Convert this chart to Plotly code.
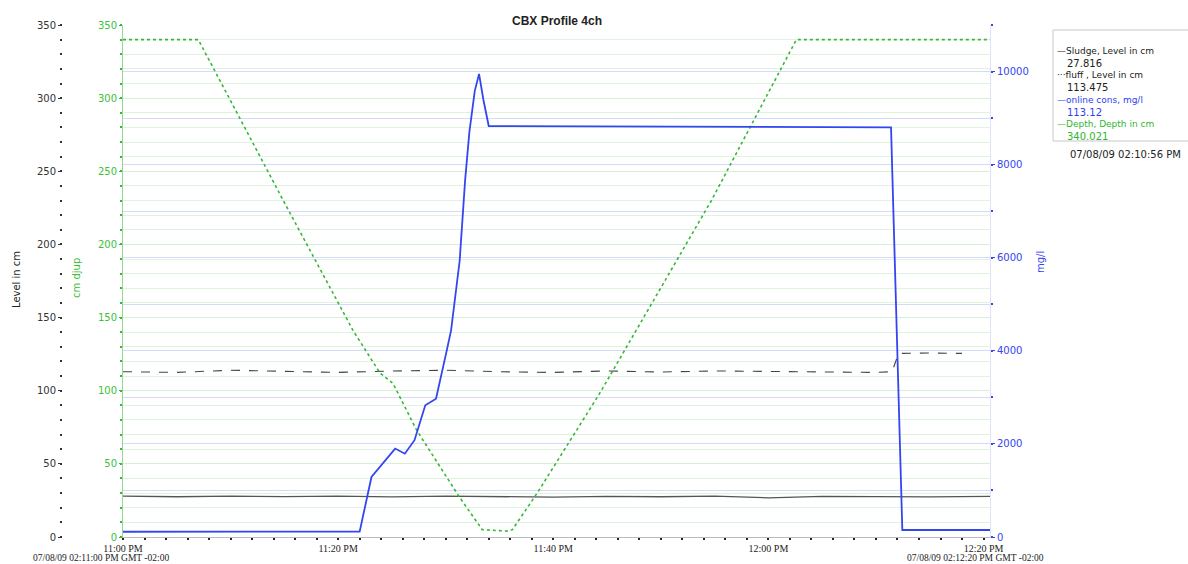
import plotly.graph_objects as go

W, H = 1188, 564

# ---------------- data ----------------
# time in minutes after 11:00 PM
x_tickvals = [0, 20, 40, 60, 80]
x_ticktext = ["11:00 PM", "11:20 PM", "11:40 PM", "12:00 PM", "12:20 PM"]

sludge_t = [0, 5, 10, 15, 20, 25, 30, 35, 40, 45, 50, 55, 60, 65, 70, 75, 80.6]
sludge_v = [28.0, 27.5, 28.0, 27.6, 28.0, 27.4, 28.0, 27.6, 27.2, 27.8, 27.5, 28.0, 26.8, 27.8, 27.5, 27.4, 27.8]

fluff_t = [0, 5, 10, 15, 20, 25, 30, 35, 40, 45, 50, 55, 60, 65, 70, 71.5, 72.1, 75, 78]
fluff_v = [113.0, 112.5, 114.0, 113.0, 112.5, 113.5, 114.0, 113.0, 112.5, 113.5, 112.8, 113.5, 113.0, 112.7, 112.5, 113.0, 125.5, 125.8, 125.5]

cons_t = [0, 22.0, 23.1, 23.5, 24.3, 25.3, 26.2, 27.1, 28.1, 29.1, 30.1, 30.5, 31.3, 31.8, 32.2, 32.7, 33.1, 33.5, 34.0, 71.4, 72.45, 80.6]
cons_v = [113, 115, 1290, 1400, 1610, 1900, 1790, 2080, 2830, 2970, 4010, 4440, 5940, 7650, 8700, 9580, 9950, 9400, 8830, 8800, 150, 150]

depth_t = [0, 7.0, 14.9, 21.4, 23.9, 25.1, 27.3, 31.3, 33.4, 35.8, 36.2, 38.5, 44.3, 54.7, 62.6, 80.6]
depth_v = [340, 340, 230, 141, 112, 105, 73, 27, 5, 4, 5, 30, 98, 230, 340, 340]

legend_names = ["\u2014Sludge, Level in cm", "\u00b7\u00b7\u00b7fluff , Level in cm", "\u2014online cons, mg/l", "\u2014Depth, Depth in cm"]
legend_values = ["27.816", "113.475", "113.12", "340.021"]
legend_colors = ["#222222", "#222222", "#2b3ff0", "#2fb52f"]
legend_time = "07/08/09 02:10:56 PM"
start_label = "07/08/09 02:11:00 PM GMT -02:00"
end_label = "07/08/09 02:12:20 PM GMT -02:00"

BLUE = "#3346f0"
GREEN = "#36b836"

def px(x):
    return x / W

def py(y):
    return 1 - y / H

fig = go.Figure()

fig.add_trace(go.Scatter(x=sludge_t, y=sludge_v, mode="lines", yaxis="y",
                         line=dict(color="#555555", width=1.3), showlegend=False))
fig.add_trace(go.Scatter(x=fluff_t, y=fluff_v, mode="lines", yaxis="y",
                         line=dict(color="#444444", width=1.1, dash="dash"), showlegend=False))
fig.add_trace(go.Scatter(x=depth_t, y=depth_v, mode="lines", yaxis="y2",
                         line=dict(color=GREEN, width=1.6, dash="dot"), showlegend=False))
fig.add_trace(go.Scatter(x=cons_t, y=cons_v, mode="lines", yaxis="y3",
                         line=dict(color=BLUE, width=1.8), showlegend=False))

x0d, x1d = px(123), px(990)
y0d, y1d = py(537), py(25)

fig.update_layout(
    width=W, height=H,
    margin=dict(l=0, r=0, t=0, b=0, pad=0, autoexpand=False),
    paper_bgcolor="white", plot_bgcolor="white",
    showlegend=False,
    xaxis=dict(domain=[x0d, x1d], range=[0, 80.6], tickvals=x_tickvals, ticktext=x_ticktext,
               automargin=False,
               showgrid=False, zeroline=False, showline=True, linecolor="#bbbbbb", linewidth=1,
               ticks="outside", ticklen=2, tickcolor="#222222", tickwidth=1,
               tickfont=dict(family="Liberation Serif", size=10, color="#222222"),
               minor=dict(dtick=2, ticks="outside", ticklen=2, tickwidth=2, tickcolor="#222222"),
               anchor="y2"),
    yaxis=dict(domain=[y0d, y1d], range=[0, 350], anchor="free", position=px(62), side="left",
               automargin=False,
               tickvals=[0, 50, 100, 150, 200, 250, 300, 350],
               showgrid=False, zeroline=False, showline=False,
               ticks="outside", ticklen=4, tickwidth=1, tickcolor="#333333",
               tickfont=dict(family="DejaVu Sans", size=10, color="#333333"),
               minor=dict(dtick=10, ticks="outside", ticklen=2, tickwidth=2, tickcolor="#333333",
                          showgrid=False)),
    yaxis2=dict(domain=[y0d, y1d], range=[0, 350], anchor="x", overlaying="y", side="left",
                automargin=False,
                tickvals=[0, 50, 100, 150, 200, 250, 300, 350],
                showgrid=True, gridcolor="#d6f0d6", gridwidth=1, zeroline=False,
                showline=True, linecolor="#8fdc8f", linewidth=1,
                ticks="outside", ticklen=3, tickwidth=1, tickcolor=GREEN,
                tickfont=dict(family="DejaVu Sans", size=10, color="#3cbf3c"),
                minor=dict(dtick=10, showgrid=True, gridcolor="#dff3df", gridwidth=1,
                           ticks="outside", ticklen=2, tickwidth=2, tickcolor=GREEN)),
    yaxis3=dict(domain=[y0d, y1d], range=[0, 11000], anchor="x", overlaying="y", side="right",
                automargin=False, tickformat="d",
                tickvals=[0, 2000, 4000, 6000, 8000, 10000],
                showgrid=True, gridcolor="#d5d9fa", gridwidth=1, zeroline=False,
                showline=True, linecolor="#dfe2fb", linewidth=1,
                ticks="outside", ticklen=4, tickwidth=1, tickcolor=BLUE,
                tickfont=dict(family="DejaVu Sans", size=10, color=BLUE),
                minor=dict(dtick=1000, showgrid=True, gridcolor="#d5d9fa", gridwidth=1,
                           ticks="outside", ticklen=2, tickwidth=2, tickcolor=BLUE)),
)

ann = []
ann.append(dict(x=px(557), y=py(12), xref="paper", yref="paper", text="<b>CBX Profile 4ch</b>",
                showarrow=False, font=dict(family="Liberation Sans", size=12, color="#222222")))
ann.append(dict(x=px(16), y=py(280), xref="paper", yref="paper", text="Level in cm", textangle=-90,
                xanchor="center", yanchor="middle",
                showarrow=False, font=dict(family="DejaVu Sans", size=10, color="#222222")))
ann.append(dict(x=px(76), y=py(278), xref="paper", yref="paper", text="cm djup", textangle=-90,
                xanchor="center", yanchor="middle",
                showarrow=False, font=dict(family="DejaVu Sans", size=10, color="#3cbf3c")))
ann.append(dict(x=px(1040), y=py(262), xref="paper", yref="paper", text="mg/l", textangle=-90,
                xanchor="center", yanchor="middle",
                showarrow=False, font=dict(family="DejaVu Sans", size=10, color=BLUE)))
ann.append(dict(x=px(32), y=0, xref="paper", yref="paper", text=start_label, xanchor="left", yanchor="bottom",
                showarrow=False, borderpad=0,
                font=dict(family="Liberation Serif", size=9.5, color="#222222")))
ann.append(dict(x=px(975), y=0, xref="paper", yref="paper", text=end_label, xanchor="center", yanchor="bottom",
                showarrow=False, borderpad=0,
                font=dict(family="Liberation Serif", size=9.5, color="#222222")))

row_y = [44, 68, 93, 117]
for i, (nm, val, col) in enumerate(zip(legend_names, legend_values, legend_colors)):
    ann.append(dict(x=px(1055), y=py(row_y[i]), xref="paper", yref="paper", text=nm, xanchor="left",
                    showarrow=False, font=dict(family="DejaVu Sans", size=9, color=col)))
    ann.append(dict(x=px(1065), y=py(row_y[i] + 11.5), xref="paper", yref="paper", text=val, xanchor="left",
                    showarrow=False, font=dict(family="DejaVu Sans", size=10, color=col)))
ann.append(dict(x=px(1068), y=py(147), xref="paper", yref="paper", text=legend_time, xanchor="left",
                showarrow=False, font=dict(family="DejaVu Sans", size=10, color="#222222")))
fig.update_layout(annotations=ann)

fig.add_shape(type="rect", xref="paper", yref="paper", x0=px(1053), x1=px(1195), y0=py(141), y1=py(30),
              line=dict(color="#c8c8c8", width=1), fillcolor="rgba(0,0,0,0)")

fig.write_html("out.html", config={"displayModeBar": False},
               post_script="document.body.style.margin='0px';document.body.style.overflow='hidden';")
